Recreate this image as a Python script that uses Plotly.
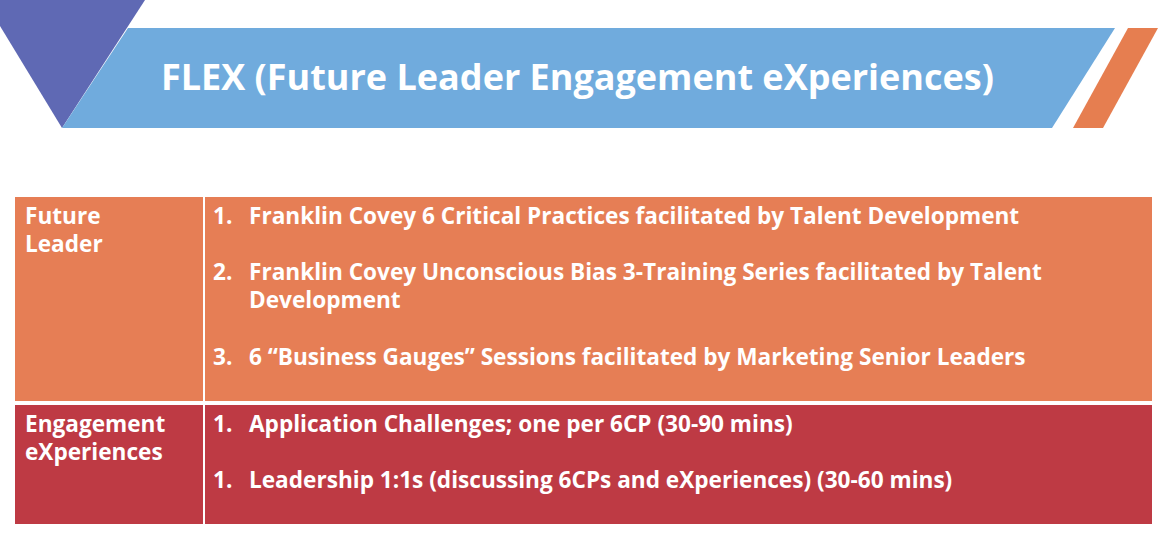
import plotly.graph_objects as go

# ------------slide content
title_text = "FLEX (Future Leader Engagement eXperiences)"
row_labels = [["Future", "Leader"], ["Engagement", "eXperiences"]]
row_numbers = [["1.", "2.", "3."], ["1.", "1."]]
row_items = [
    [["Franklin Covey 6 Critical Practices facilitated by Talent Development"],
     ["Franklin Covey Unconscious Bias 3-Training Series facilitated by Talent", "Development"],
     ["6 \u201cBusiness Gauges\u201d Sessions facilitated by Marketing Senior Leaders"]],
    [["Application Challenges; one per 6CP (30-90 mins)"],
     ["Leadership 1:1s (discussing 6CPs and eXperiences) (30-60 mins)"]],
]

# ------------layout defines (pixel space of the 1170x540 page)
W, H = 1170, 540
FONT = "Open Sans"
TXT = 22.6
row_fill = ["#E67E55", "#BE3A44"]
row_box = [(197, 401), (405, 524)]
item_y = [[215, 271, 356], [423, 479]]
label_y = [215, 423]
line_gap = 28

fig = go.Figure()
fig.add_trace(go.Scatter(x=[0, W], y=[0, H], mode="markers", marker=dict(opacity=0), hoverinfo="skip"))


def poly(points, color):
    path = "M " + " L ".join("{},{}".format(x, y) for x, y in points) + " Z"
    fig.add_shape(type="path", path=path, fillcolor=color, line=dict(width=0), layer="below")


# banner
poly([(0, 0), (145, 0), (62, 128), (0, 26)], "#5F69B4")
poly([(128, 28), (1115, 28), (1052, 128), (62, 128)], "#70ABDD")
poly([(1128, 28), (1158, 28), (1103, 128), (1073, 128)], "#E67E50")
fig.add_annotation(x=577, y=76, text="<b>" + title_text + "</b>", showarrow=False,
                   xanchor="center", yanchor="middle",
                   font=dict(family=FONT, size=36, color="white"))

# table
for r in range(2):
    y0, y1 = row_box[r]
    fig.add_shape(type="rect", x0=15, x1=1152, y0=y0, y1=y1, fillcolor=row_fill[r],
                  line=dict(width=0), layer="below")
    fig.add_shape(type="line", x0=204, x1=204, y0=y0, y1=y1, line=dict(color="white", width=2))
    for i, word in enumerate(row_labels[r]):
        fig.add_annotation(x=23, y=label_y[r] + i * line_gap, text="<b>" + word + "</b>",
                           showarrow=False, xanchor="left", yanchor="middle",
                           font=dict(family=FONT, size=TXT, color="white"))
    for k, num in enumerate(row_numbers[r]):
        fig.add_annotation(x=211, y=item_y[r][k], text="<b>" + num + "</b>", showarrow=False,
                           xanchor="left", yanchor="middle",
                           font=dict(family=FONT, size=TXT, color="white"))
        for j, line in enumerate(row_items[r][k]):
            fig.add_annotation(x=247, y=item_y[r][k] + j * line_gap, text="<b>" + line + "</b>",
                               showarrow=False, xanchor="left", yanchor="middle",
                               font=dict(family=FONT, size=TXT, color="white"))

fig.update_xaxes(range=[0, W], visible=False, fixedrange=True)
fig.update_yaxes(range=[H, 0], visible=False, fixedrange=True)
fig.update_layout(width=W, height=H, margin=dict(l=0, r=0, t=0, b=0),
                  plot_bgcolor="white", paper_bgcolor="white", showlegend=False)

# drop the default page margin so the slide sits flush with the window
fig.write_html("out.html", config={"displayModeBar": False},
               post_script="document.body.style.margin='0';")
